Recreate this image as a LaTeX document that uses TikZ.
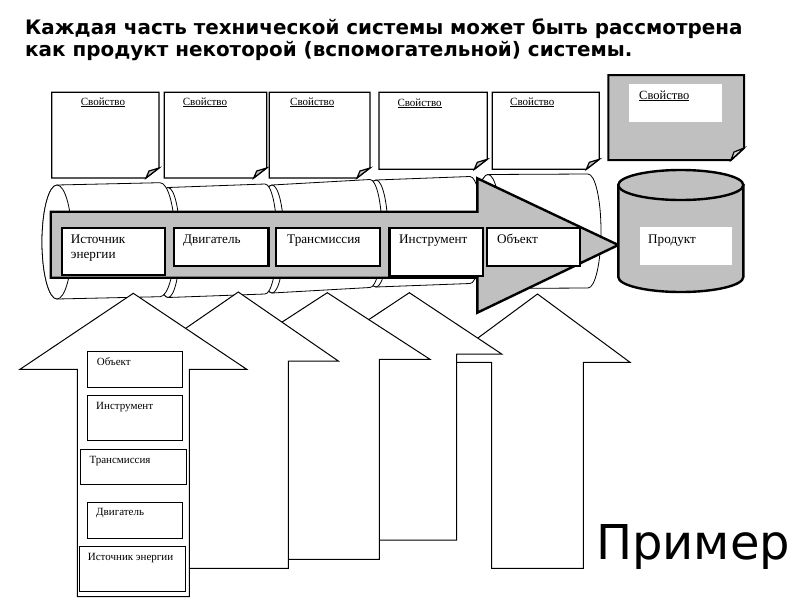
\documentclass[tikz,border=0pt]{standalone}
\usepackage{fontspec}
\setmainfont{Liberation Serif}
\newfontfamily\titlefont{DejaVu Sans}
\definecolor{pgrey}{HTML}{C0C0C0}
\newcommand\hcyl[6]{%
  \draw[cylline] (#1,#2-#5) -- (#3,#4-#5) arc[start angle=-90,end angle=90,x radius=#6,y radius=#5]
     -- (#1,#2+#5) arc[start angle=90,end angle=270,x radius=#6,y radius=#5] -- cycle;
  \draw[cylline] (#1,#2) ellipse[x radius=#6,y radius=#5];}
\newcommand\uparr[8]{%
  \draw[thinl] (#1,#2) -- (#5,#3) -- (#7,#3) -- (#7,#8) -- (#6,#8) -- (#6,#3) -- (#4,#3) -- cycle;}
\newcommand\pbox[4]{%
  \draw[propline] (#1,#2) -- (#3,#2) -- (#3,#4-10) -- (#3-13,#4) -- (#1,#4) -- cycle;
  \draw[propline,fill=pgrey] (#3,#4-10) -- (#3-13,#4) -- (#3-10,#4-7) -- cycle;}
\begin{document}
\begin{tikzpicture}[x=1pt,y=-1pt,
  cylline/.style={draw=black,line width=0.8pt,fill=white},
  thinl/.style={draw=black,line width=1pt,fill=white,line join=miter},
  propline/.style={draw=black,line width=1.2pt,fill=white,line join=miter},
  thickl/.style={draw=black,line width=2.4pt,line join=miter},
  lbl/.style={inner sep=0pt,anchor=base west,font=\fontsize{13.2}{15}\selectfont},
  slbl/.style={inner sep=0pt,anchor=base west,font=\fontsize{11}{13}\selectfont},
  plbl/.style={inner sep=0pt,anchor=base west,font=\fontsize{11}{13}\selectfont},
  ttl/.style={inner sep=0pt,anchor=base west,font=\titlefont\bfseries\fontsize{19.9}{24}\selectfont}]
\useasboundingbox (0,0) rectangle (800,600);
\fill[white] (0,0) rectangle (800,600);

% title
\node[ttl] (t1) at (25,34) {Каждая часть технической системы может быть рассмотрена};
\node[ttl] (t2) at (25,56.5) {как продукт некоторой (вспомогательной) системы.};

% property boxes
\pbox{51.7}{92.3}{159}{178}
\pbox{164.3}{92.3}{266.7}{178}
\pbox{269.3}{92.3}{370}{178}
\pbox{379}{92.3}{487.3}{169.3}
\pbox{492.3}{92.3}{599.3}{169.3}
\node[plbl] (pl1) at (80.7,105) {\underline{Свойство}};
\node[plbl] (pl2) at (182.7,105) {\underline{Свойство}};
\node[plbl] (pl3) at (290,105) {\underline{Свойство}};
\node[plbl] (pl4) at (397.3,106) {\underline{Свойство}};
\node[plbl] (pl5) at (510,105) {\underline{Свойство}};
% grey property box
\draw[draw=black,line width=2pt,fill=pgrey,line join=miter] (608.3,75) -- (744,75) -- (744,148) -- (731,160) -- (608.3,160) -- cycle;
\draw[propline,fill=pgrey!60] (744,148) -- (731,160) -- (734,152) -- cycle;
\fill[white] (629,84) rectangle (721.7,121.7);
\node[inner sep=0pt,anchor=base west,font=\fontsize{12.5}{15}\selectfont] (pl6) at (639,99) {\underline{Свойство}};

% cylinders (right to left)
\hcyl{488}{231.5}{588}{231}{57}{13}
\hcyl{376}{233.5}{470}{230}{53.5}{12}
\hcyl{272}{239}{370}{233.5}{54}{12}
\hcyl{168}{242.5}{265}{239}{55}{12}
\hcyl{57}{242}{160}{239.7}{57}{15}

% big arrow
\draw[thickl,fill=pgrey] (50.7,211.7) -- (477.3,211.7) -- (477.3,178.3) -- (618.3,245) -- (477.3,312.7) -- (477.3,277.7) -- (50.7,277.7) -- cycle;
\draw[thickl,fill=white] (61.7,227.7) rectangle (165,275);
\draw[thickl,fill=white] (174,227.7) rectangle (268.3,266);
\draw[thickl,fill=white] (276,227.7) rectangle (380,266);
\draw[thickl,fill=white] (389.3,227.7) rectangle (482.7,275.7);
\draw[thickl,fill=white] (486.7,227.7) rectangle (580,266);
\node[lbl] (m1) at (70.7,243.3) {Источник};
\node[lbl] (m1b) at (70.7,258.3) {энергии};
\node[lbl] (m2) at (183,243.5) {Двигатель};
\node[lbl] (m3) at (287,243.5) {Трансмиссия};
\node[lbl] (m4) at (399,243.3) {Инструмент};
\node[lbl] (m5) at (497,243.3) {Объект};

% product cylinder
\draw[thickl,fill=pgrey] (618.3,185) -- (618.3,277) arc[start angle=180,end angle=0,x radius=62.5,y radius=15] -- (743.3,185) -- cycle;
\draw[thickl,fill=pgrey] (680.8,185) ellipse[x radius=62.5,y radius=15];
\fill[white] (640,226.7) rectangle (732.3,265);
\node[lbl] (prod) at (648,243.3) {Продукт};

% up arrows
\uparr{537.5}{294}{362.3}{445}{630}{491.7}{583.3}{568.3}
\uparr{409.3}{292.7}{354}{317}{501.7}{362}{456.7}{540}
\uparr{327.3}{292.7}{359.3}{224.7}{430}{275.3}{379.3}{559.3}
\uparr{238.3}{292}{361}{138.3}{338.3}{188.3}{288.3}{568.3}
\uparr{133.3}{293.3}{369.3}{20}{246.7}{77.3}{189.3}{596.7}

% small boxes
\draw[thinl] (87.3,351) rectangle (182.3,387.3);
\draw[thinl] (87.3,395) rectangle (182.3,440.7);
\draw[thinl] (80,449.3) rectangle (186,484);
\draw[thinl] (87.3,502.3) rectangle (182.3,538.3);
\draw[thinl] (79,546) rectangle (185.7,591);
\node[slbl] (s1) at (96.7,365) {Объект};
\node[slbl] (s2) at (96,409.3) {Инструмент};
\node[slbl] (s3) at (89.3,463.3) {Трансмиссия};
\node[slbl] (s4) at (96,515) {Двигатель};
\node[slbl] (s5) at (87.7,560) {Источник энергии};

% example
\node[inner sep=0pt,anchor=base west,font=\titlefont\fontsize{48}{56}\selectfont] (ex) at (596,559.3) {Пример};
\end{tikzpicture}
\end{document}
